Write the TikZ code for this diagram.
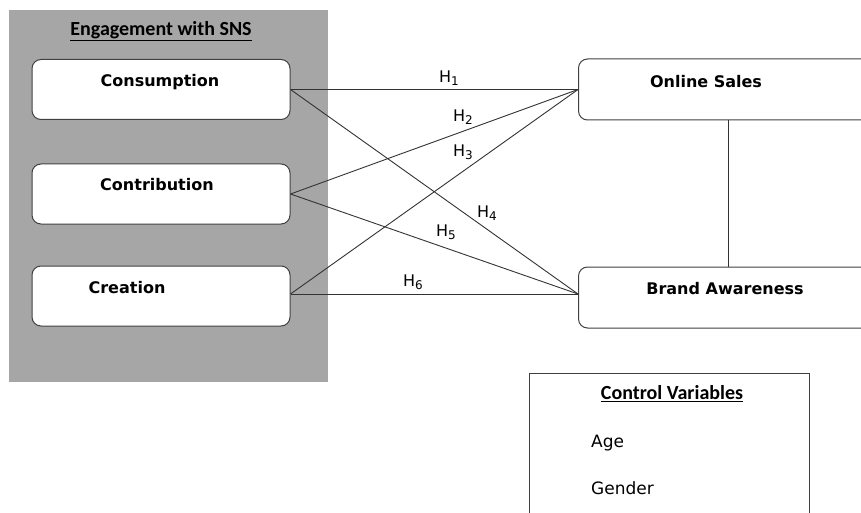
\documentclass[tikz,border=0pt]{standalone}
\usepackage{fontspec}
\setmainfont{DejaVu Sans}
\newfontfamily\calib{Carlito}
\newcommand{\hsub}[1]{H\raisebox{-0.3ex}{\fontsize{12}{14}\selectfont #1}}
\begin{document}
\begin{tikzpicture}[x=1pt,y=-1pt,
  box/.style={draw=black!75, line width=1pt, rounded corners=9pt, fill=white, inner sep=0pt},
  conn/.style={draw=black!80, line width=0.9pt},
  hlbl/.style={font=\fontsize{16}{18}\selectfont, inner sep=0pt},
  btxt/.style={font=\fontsize{16}{18}\selectfont\bfseries, inner sep=0pt},
  ctitle/.style={font=\fontsize{20}{22}\selectfont\calib\bfseries, inner sep=0pt},
  ptxt/.style={font=\fontsize{17}{19}\selectfont, inner sep=0pt, anchor=west}]
\clip (0,0) rectangle (861,513);
\useasboundingbox (0,0) rectangle (861,513);
% group background
\fill[fill=black!35] (9,10) rectangle (328,382);
\node[ctitle] (gtitle) at (161,31) {\underline{Engagement with SNS}};
% left boxes
\node[box, minimum width=258pt, minimum height=60pt] (cons) at (161,89.5) {};
\node[btxt] (consT) at (160,82) {Consumption};
\node[box, minimum width=258pt, minimum height=60pt] (contr) at (161,194) {};
\node[btxt] (contrT) at (157,185) {Contribution};
\node[box, minimum width=258pt, minimum height=60pt] (crea) at (161,296) {};
\node[btxt] (creaT) at (127,288) {Creation};
% right boxes
\node[box, minimum width=330pt, minimum height=61pt, anchor=west] (os) at (578,89.5) {};
\node[btxt] (osT) at (706,82) {Online Sales};
\node[box, minimum width=330pt, minimum height=61pt, anchor=west] (ba) at (578,297.5) {};
\node[btxt] (baT) at (725,289) {Brand Awareness};
\coordinate (osin) at (578,89.5);
\coordinate (bain) at (578,294);
\coordinate (vx) at (728,0);
% connectors
\draw[conn] (cons.east) -- (osin);
\draw[conn] (cons.east) -- (bain);
\draw[conn] (contr.east) -- (osin);
\draw[conn] (contr.east) -- (bain);
\draw[conn] (crea.east |- bain) -- (osin);
\draw[conn] (crea.east |- bain) -- (bain);
\draw[conn] (os.south -| vx) -- (ba.north -| vx);
% labels
\node[hlbl] (h1) at (449,78) {\hsub{1}};
\node[hlbl] (h2) at (463,117) {\hsub{2}};
\node[hlbl] (h3) at (463,152) {\hsub{3}};
\node[hlbl] (h4) at (487,213) {\hsub{4}};
\node[hlbl] (h5) at (446,232) {\hsub{5}};
\node[hlbl] (h6) at (413,282) {\hsub{6}};
% control variables
\node[draw=black!75, line width=1pt, minimum width=280pt, minimum height=170pt, anchor=north west, inner sep=0pt] (cv) at (529,373) {};
\node[ctitle] (cvT) at (672,394) {\underline{Control Variables}};
\node[ptxt] (age) at (591,443) {Age};
\node[ptxt] (gender) at (591,488) {Gender};
\end{tikzpicture}
\end{document}
